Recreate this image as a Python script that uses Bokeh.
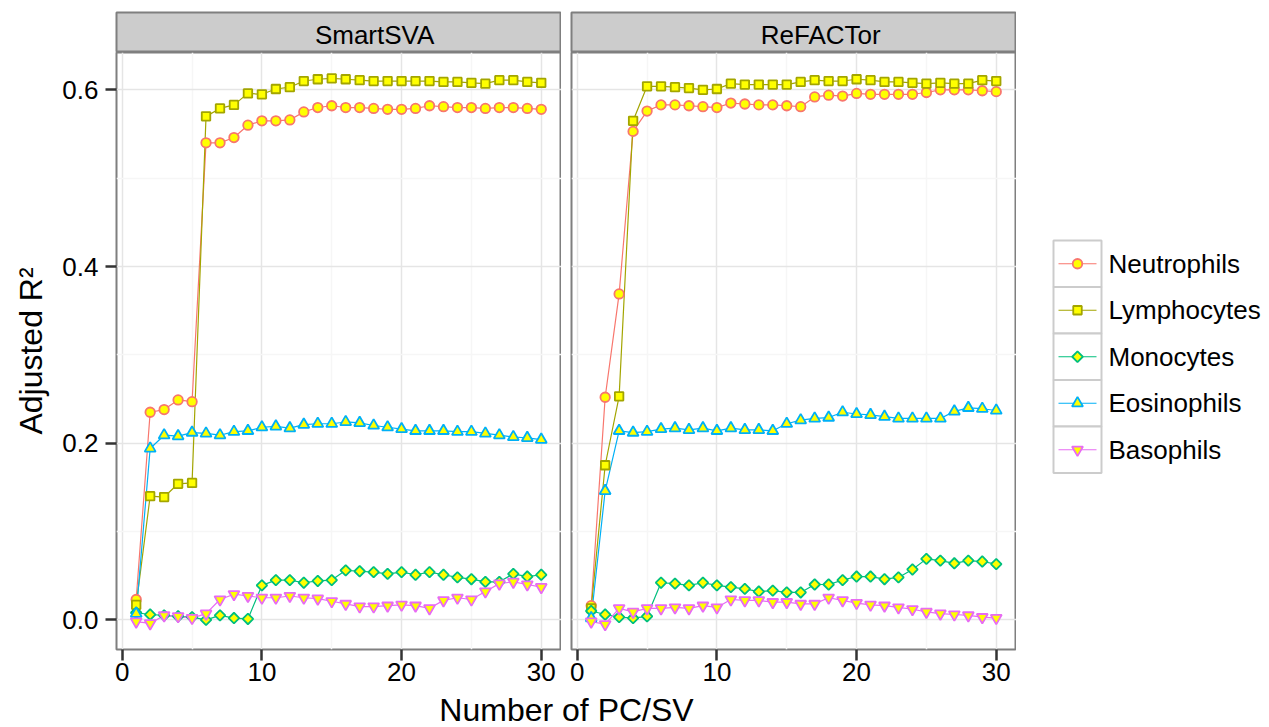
import math
from bokeh.plotting import figure
from bokeh.models import Range1d, FixedTicker, PrintfTickFormatter, Label
from bokeh.layouts import row, column
from bokeh.embed import file_html
from bokeh.resources import INLINE
from bokeh.core.properties import value

# ---------------- data ----------------
x_vals = list(range(1, 31))
panels = ["SmartSVA", "ReFACTor"]
cell_types = ["Neutrophils", "Lymphocytes", "Monocytes", "Eosinophils", "Basophils"]

neut_smartsva = [0.023, 0.235, 0.238, 0.249, 0.247, 0.540, 0.540, 0.546, 0.560, 0.565,
                 0.565, 0.566, 0.575, 0.580, 0.582, 0.580, 0.580, 0.579, 0.578, 0.578,
                 0.579, 0.582, 0.581, 0.580, 0.580, 0.579, 0.580, 0.580, 0.579, 0.578]
lymph_smartsva = [0.017, 0.140, 0.139, 0.154, 0.155, 0.570, 0.579, 0.583, 0.596, 0.595,
                  0.601, 0.603, 0.610, 0.612, 0.613, 0.612, 0.611, 0.610, 0.610, 0.610,
                  0.610, 0.610, 0.609, 0.609, 0.608, 0.607, 0.611, 0.611, 0.609, 0.608]
mono_smartsva = [0.008, 0.006, 0.005, 0.004, 0.003, 0.000, 0.005, 0.002, 0.001, 0.039,
                 0.045, 0.045, 0.042, 0.044, 0.045, 0.056, 0.055, 0.054, 0.052, 0.054,
                 0.051, 0.054, 0.051, 0.048, 0.046, 0.043, 0.043, 0.052, 0.049, 0.051]
eos_smartsva = [0.007, 0.194, 0.209, 0.208, 0.212, 0.211, 0.209, 0.213, 0.214, 0.218,
                0.219, 0.217, 0.221, 0.222, 0.222, 0.224, 0.223, 0.220, 0.218, 0.216,
                0.214, 0.214, 0.214, 0.213, 0.213, 0.211, 0.209, 0.207, 0.206, 0.204]
baso_smartsva = [-0.002, -0.004, 0.005, 0.004, 0.002, 0.007, 0.023, 0.029, 0.027, 0.025,
                 0.025, 0.027, 0.025, 0.024, 0.021, 0.018, 0.015, 0.015, 0.016, 0.017,
                 0.016, 0.013, 0.022, 0.025, 0.023, 0.032, 0.041, 0.043, 0.040, 0.037]

neut_refactor = [0.016, 0.252, 0.369, 0.553, 0.576, 0.583, 0.583, 0.582, 0.581, 0.580,
                 0.585, 0.584, 0.583, 0.583, 0.582, 0.581, 0.592, 0.594, 0.593, 0.596,
                 0.595, 0.595, 0.595, 0.595, 0.597, 0.600, 0.600, 0.600, 0.599, 0.598]
lymph_refactor = [0.013, 0.175, 0.253, 0.565, 0.604, 0.604, 0.603, 0.602, 0.600, 0.601,
                  0.607, 0.606, 0.606, 0.606, 0.606, 0.609, 0.611, 0.610, 0.610, 0.612,
                  0.611, 0.609, 0.609, 0.608, 0.607, 0.608, 0.607, 0.607, 0.611, 0.610]
mono_refactor = [0.010, 0.006, 0.003, 0.002, 0.004, 0.042, 0.041, 0.039, 0.042, 0.039,
                 0.037, 0.035, 0.032, 0.033, 0.031, 0.031, 0.040, 0.040, 0.045, 0.049,
                 0.049, 0.046, 0.048, 0.057, 0.069, 0.067, 0.064, 0.067, 0.066, 0.063]
eos_refactor = [0.002, 0.146, 0.214, 0.212, 0.213, 0.216, 0.217, 0.215, 0.217, 0.214,
                0.217, 0.215, 0.215, 0.214, 0.222, 0.226, 0.228, 0.229, 0.235, 0.233,
                0.232, 0.230, 0.228, 0.228, 0.228, 0.228, 0.236, 0.240, 0.239, 0.237]
baso_refactor = [-0.002, -0.005, 0.013, 0.009, 0.013, 0.013, 0.014, 0.013, 0.016, 0.014,
                 0.023, 0.022, 0.022, 0.020, 0.020, 0.018, 0.018, 0.025, 0.022, 0.019,
                 0.017, 0.016, 0.014, 0.012, 0.009, 0.007, 0.006, 0.005, 0.003, 0.002]

series = {
    "SmartSVA": [neut_smartsva, lymph_smartsva, mono_smartsva, eos_smartsva, baso_smartsva],
    "ReFACTor": [neut_refactor, lymph_refactor, mono_refactor, eos_refactor, baso_refactor],
}

x_ticks = [0, 10, 20, 30]
x_minor = [5, 15, 25]
y_ticks = [0.0, 0.2, 0.4, 0.6]
y_minor = [0.1, 0.3, 0.5]
x_title = "Number of PC/SV"
y_title = "Adjusted R²"

# ---------------- style ----------------
colors = ["#F8766D", "#A3A500", "#00BF7D", "#00B0F6", "#E76BF3"]
markers = [("circle", 9.5, 0.0), ("square", 8.5, 0.0), ("square", 7.5, math.pi / 4),
           ("triangle", 11, 0.0), ("inverted_triangle", 11, 0.0)]
FILL = "#FFFF00"
FONT = "Liberation Sans"
BORDER = "#7F7F7F"
FRAME_W = 445
FRAME_H = 597
BOTTOM_AXIS = 43
STRIP_H = 52
Y_RANGE = Range1d(-0.0336, 0.6423)
STRIP_LABEL_POS = [0.58, 0.56]   # relative position of strip text in each strip


def style_grid(p):
    for g, tk, mn in ((p.xgrid, x_ticks, x_minor), (p.ygrid, y_ticks, y_minor)):
        g.ticker = FixedTicker(ticks=tk, minor_ticks=mn)
        g.grid_line_color = "#E5E5E5"
        g.grid_line_width = 1.5
        g.minor_grid_line_color = "#F6F6F6"
        g.minor_grid_line_width = 1.5


def style_axis(ax):
    ax.axis_line_color = None
    ax.minor_tick_line_color = None
    ax.major_tick_in = 0
    ax.major_tick_out = 11
    ax.major_tick_line_width = 2.5
    ax.major_tick_line_color = "#333333"
    ax.major_label_text_font = FONT
    ax.major_label_text_font_size = "26px"
    ax.major_label_text_color = "#000000"


def make_panel(name, left_border, with_y):
    p = figure(width=left_border + FRAME_W, height=FRAME_H + BOTTOM_AXIS,
               x_range=Range1d(-0.41, 31.45), y_range=Y_RANGE,
               y_axis_location="left" if with_y else None,
               min_border_left=left_border, min_border_right=0,
               min_border_top=0, min_border_bottom=BOTTOM_AXIS,
               tools="", toolbar_location=None, output_backend="svg")
    p.background_fill_color = "white"
    p.border_fill_color = "white"
    p.outline_line_color = BORDER
    p.outline_line_width = 2
    style_grid(p)
    xa = p.xaxis[0]
    xa.ticker = FixedTicker(ticks=x_ticks, minor_ticks=x_minor)
    style_axis(xa)
    xa.major_label_standoff = 2
    if with_y:
        ya = p.yaxis[0]
        ya.ticker = FixedTicker(ticks=y_ticks, minor_ticks=y_minor)
        ya.formatter = PrintfTickFormatter(format="%.1f")
        style_axis(ya)
        ya.major_label_standoff = 7
        ya.axis_label = y_title
        ya.axis_label_text_font = FONT
        ya.axis_label_text_font_size = "32px"
        ya.axis_label_text_font_style = "normal"
        ya.axis_label_text_color = "#000000"
        ya.axis_label_standoff = 10
    vals = series[name]
    for i, v in enumerate(vals):
        p.line(x_vals, v, line_color=colors[i], line_width=1.2)
    for i, v in enumerate(vals):
        mk, sz, ang = markers[i]
        p.scatter(x_vals, v, marker=mk, size=sz, angle=ang, fill_color=FILL,
                  line_color=colors[i], line_width=1.8)
    return p


def make_strip(name, left_border, pos):
    s = figure(width=left_border + FRAME_W, height=STRIP_H,
               x_range=Range1d(0, 1), y_range=Range1d(0, 1),
               x_axis_location=None, y_axis_location=None,
               min_border_left=left_border, min_border_right=0,
               min_border_top=12, min_border_bottom=0,
               tools="", toolbar_location=None, output_backend="svg")
    s.grid.visible = False
    s.background_fill_color = "#CCCCCC"
    s.border_fill_color = "white"
    s.outline_line_color = BORDER
    s.outline_line_width = 2
    s.add_layout(Label(x=pos, y=0.45, text=name, text_align="center",
                       text_baseline="middle", text_font=FONT,
                       text_font_size="26px", text_color="#000000"))
    return s


p1 = make_panel(panels[0], 116, True)
p2 = make_panel(panels[1], 10, False)
s1 = make_strip(panels[0], 116, STRIP_LABEL_POS[0])
s2 = make_strip(panels[1], 10, STRIP_LABEL_POS[1])

left_w = p1.width + p2.width
xt_h = 727 - STRIP_H - (FRAME_H + BOTTOM_AXIS)
xt = figure(width=left_w, height=xt_h, x_range=Range1d(0, left_w), y_range=Range1d(0, xt_h),
            x_axis_location=None, y_axis_location=None, min_border=0,
            tools="", toolbar_location=None, output_backend="svg")
xt.grid.visible = False
xt.outline_line_color = None
xt.add_layout(Label(x=(116 + left_w) / 2, y=18, text=x_title, text_align="center",
                    text_baseline="middle", text_font=FONT,
                    text_font_size="32px", text_color="#000000"))

# legend
lg_w = 1269 - left_w
lg = figure(width=lg_w, height=727, x_range=Range1d(0, lg_w), y_range=Range1d(727, 0),
            x_axis_location=None, y_axis_location=None, min_border=0,
            tools="", toolbar_location=None, output_backend="svg")
lg.grid.visible = False
lg.outline_line_color = None
key_left, key_right, key_top, key_h = 37, 85, 240, 46.5
tops = [key_top + i * key_h for i in range(len(cell_types))]
centers = [t + key_h / 2 for t in tops]
lg.quad(left=key_left, right=key_right, top=tops, bottom=[t + key_h for t in tops],
        fill_color="white", line_color="#CCCCCC", line_width=2)
mid = (key_left + key_right) / 2
lg.segment(x0=key_left + 5, x1=key_right - 5, y0=centers, y1=centers,
           line_color=colors, line_width=1.2)
for i, name in enumerate(cell_types):
    mk, sz, ang = markers[i]
    lg.scatter([mid], [centers[i]], marker=mk, size=sz, angle=ang, fill_color=FILL,
               line_color=colors[i], line_width=1.8)
lg.text(x=key_right + 7, y=centers, text=cell_types, text_align="left",
        text_baseline="middle", text_font=value(FONT), text_font_size="26px",
        text_color="#000000")

page = row(column(row(s1, s2), row(p1, p2), xt), lg)
open("out.html", "w").write(file_html(page, INLINE))
